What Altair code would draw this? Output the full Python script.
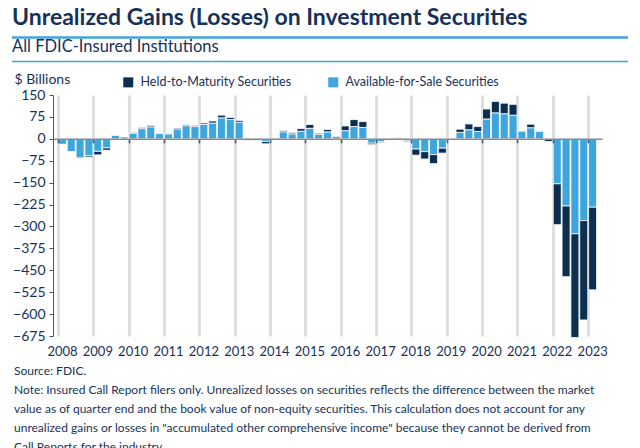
import altair as alt
import pandas as pd

FONT = "Lato"
TEXT = "#17325a"
NAVY = "#0c2f4f"
BLUE = "#3ea6dc"

TITLE = "Unrealized Gains (Losses) on Investment Securities"
SUBTITLE = "All FDIC-Insured Institutions"
NOTES = [
    "Source: FDIC.",
    "Note: Insured Call Report filers only. Unrealized losses on securities reflects the difference between the market",
    "value as of quarter end and the book value of non-equity securities. This calculation does not account for any",
    "unrealized gains or losses in \"accumulated other comprehensive income\" because they cannot be derived from",
    "Call Reports for the industry.",
]

years = list(range(2008, 2024))
y_ticks = list(range(-675, 151, 75))
quarters = [f"{y}Q{q}" for y in range(2008, 2023) for q in range(1, 5)] + ["2023Q1"]

afs = [
    -19, -44, -66, -58,
    -43, -31, 12, 7,
    19, 35, 41, 18,
    17, 34, 45, 42,
    49, 54, 72, 66,
    57, 2, 2, -9,
    2, 24, 17, 26,
    36, 15, 24, 3,
    28, 42, 39, -15,
    -9, 1, 4, -7,
    -35, -44, -54, -32,
    -2, 22, 31, 25,
    68, 89, 86, 81,
    27, 38, 26, -2,
    -154, -230, -325, -280,
    -234,
]
htm = [
    -1, -1, -1, -5,
    -12, -8, 1, 1,
    3, 4, 5, 2,
    2, 3, 4, 4,
    5, 7, 9, 7,
    6, -5, -5, -8,
    -3, 4, 4, 9,
    13, 4, 8, 5,
    16, 24, 20, -5,
    -4, -2, -1, -3,
    -21, -25, -31, -17,
    -2, 11, 20, 17,
    34, 39, 36, 37,
    1, 12, 1, -7,
    -140, -242, -355, -340,
    -283,
]

HTM_NAME = "Held-to-Maturity Securities"
AFS_NAME = "Available-for-Sale Securities"

rows = []
for i, q in enumerate(quarters):
    pos = 2008 + i * 0.25 + 0.125
    rows.append({"quarter": q, "pos": pos, "series": AFS_NAME, "value": afs[i], "ord": 0})
    rows.append({"quarter": q, "pos": pos, "series": HTM_NAME, "value": htm[i], "ord": 1})
df = pd.DataFrame(rows)

W, H = 549, 241
ZERO_FROM_BOTTOM = H * 675 / 825

xscale = alt.Scale(domain=[2008, 2023.25], nice=False, zero=False)
yscale = alt.Scale(domain=[-675, 150], nice=False, zero=False)

yaxis = alt.Axis(
    values=y_ticks, title="$ Billions", titleAngle=0,
    titleX=-39, titleY=-12, titleAlign="left", titleBaseline="alphabetic",
    titleFontSize=14, titleFontWeight="normal", titleColor=TEXT, titleFont=FONT,
    labelFontSize=14, labelColor=TEXT, labelFont=FONT, tickSize=4, labelOverlap=False,
    tickColor="#4a5568", domainColor="#4a5568", grid=False, labelPadding=4)

bars = alt.Chart(df).mark_bar(width=8, stroke="white", strokeWidth=0.8).encode(
    x=alt.X("pos:Q", scale=xscale, axis=alt.Axis(
        orient="bottom", values=years, format="d", title=None, grid=True, gridColor="#d9d9d9",
        gridWidth=2.5, ticks=False, domain=False, labelFontSize=13, labelColor=TEXT,
        labelFont=FONT, labelOffset=4, labelPadding=9, labelFlush=False, labelOverlap=False)),
    y=alt.Y("value:Q", stack="zero", scale=yscale, axis=yaxis),
    color=alt.Color("series:N", scale=alt.Scale(domain=[HTM_NAME, AFS_NAME], range=[NAVY, BLUE]),
                    legend=alt.Legend(orient="none", legendX=69, legendY=-19, direction="horizontal",
                                      title=None, symbolType="square", symbolSize=100,
                                      symbolStrokeWidth=0, labelFontSize=12.5, labelColor=TEXT,
                                      labelFont=FONT, columnPadding=35, labelOffset=6, labelLimit=0)),
    order=alt.Order("ord:Q"),
)

ticks_df = pd.DataFrame({"yr": years, "zero": [0] * len(years)})
zero_axis = alt.Chart(ticks_df).mark_point(opacity=0).encode(
    x=alt.X("yr:Q", scale=xscale, axis=alt.Axis(
        orient="bottom", offset=-ZERO_FROM_BOTTOM, values=years, labels=False, grid=False,
        ticks=True, tickSize=4, tickColor="#4a5568", tickWidth=1.5, domain=True,
        domainColor="#8a8a8a", domainWidth=1.5, title=None, zindex=1)),
    y=alt.Y("zero:Q", scale=yscale, axis=yaxis),
)

title = alt.Chart(pd.DataFrame({"t": [TITLE]})).mark_text(
    align="left", baseline="middle", font=FONT, fontSize=23, fontWeight="bold", color=TEXT
).encode(text="t:N", x=alt.value(-41), y=alt.value(-77))

subtitle = alt.Chart(pd.DataFrame({"t": [SUBTITLE]})).mark_text(
    align="left", baseline="middle", font=FONT, fontSize=16.5, color=TEXT
).encode(text="t:N", x=alt.value(-41), y=alt.value(-48))

line1 = alt.Chart(pd.DataFrame({"a": [0]})).mark_rule(color=BLUE, strokeWidth=2.5).encode(
    x=alt.value(-41), x2=alt.value(575), y=alt.value(-57.5))
line2 = alt.Chart(pd.DataFrame({"a": [0]})).mark_rule(color=BLUE, strokeWidth=1.5).encode(
    x=alt.value(-41), x2=alt.value(575), y=alt.value(-33.5))

notes = alt.Chart(pd.DataFrame({"a": [0]})).mark_text(
    align="left", baseline="alphabetic", font=FONT, fontSize=12, color=TEXT,
    lineHeight=19.1, text=NOTES
).encode(x=alt.value(-39), y=alt.value(280))

chart = alt.layer(bars, zero_axis, title, subtitle, line1, line2, notes).resolve_axis(
    x="independent"
).properties(
    width=W, height=H,
    autosize=alt.AutoSizeParams(type="none"),
    padding={"left": 45, "top": 87, "right": 30, "bottom": 116},
).configure_view(stroke=None).configure_axisY(labelOverlap=False)

chart.save("out.html", embed_options={"renderer": "svg", "actions": False})
